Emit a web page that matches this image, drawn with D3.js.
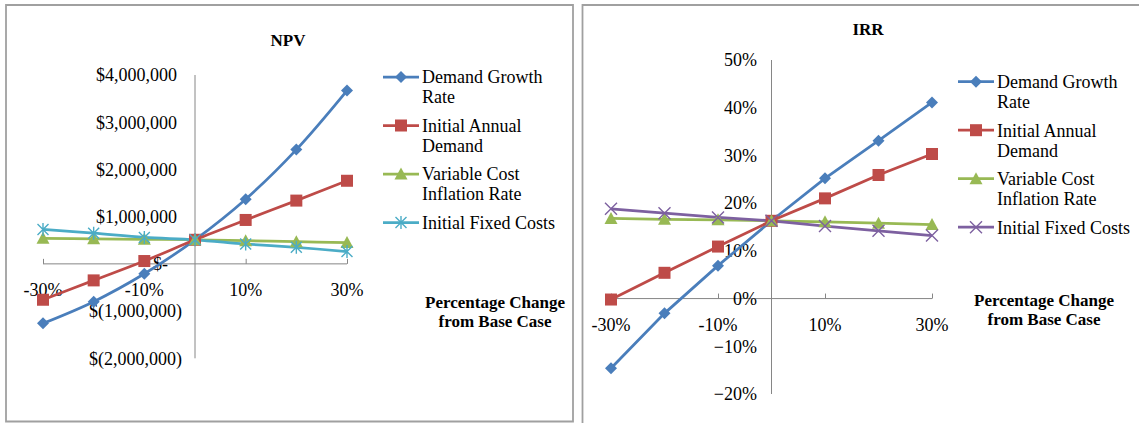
<!DOCTYPE html>
<html>
<head>
<meta charset="utf-8">
<title>NPV and IRR sensitivity</title>
<script src="https://cdnjs.cloudflare.com/ajax/libs/d3/7.8.5/d3.min.js"></script>
<style>
  body { margin: 0; background: #fff; }
  svg { display: block; font-family: "Liberation Serif", "Times New Roman", serif; }
  .lbl { font-size: 18px; fill: #000; }
  .ttl { font-size: 17px; font-weight: bold; fill: #000; }
</style>
</head>
<body>
<div id="chart"></div>
<script>
// categories: percentage change from base case
var categories = [-0.3, -0.2, -0.1, 0, 0.1, 0.2, 0.3];
var xTickLabels = ["-30%", "-20%", "-10%", "0%", "10%", "20%", "30%"];
var seriesNames = ["Demand Growth Rate", "Initial Annual Demand", "Variable Cost Inflation Rate", "Initial Fixed Costs"];

// NPV ($)
var npvDemandGrowth = [-1260000, -800000, -210000, 510000, 1370000, 2420000, 3670000];
var npvInitialDemand = [-760000, -350000, 60000, 510000, 930000, 1340000, 1760000];
var npvVarCost = [540000, 530000, 520000, 510000, 490000, 470000, 450000];
var npvFixedCost = [730000, 650000, 560000, 510000, 420000, 350000, 260000];
var npvTicks = [-2000000, -1000000, 0, 1000000, 2000000, 3000000, 4000000];

// IRR
var irrDemandGrowth = [-0.146, -0.031, 0.069, 0.163, 0.252, 0.331, 0.411];
var irrInitialDemand = [-0.002, 0.054, 0.109, 0.163, 0.210, 0.259, 0.303];
var irrVarCost = [0.168, 0.166, 0.165, 0.163, 0.161, 0.158, 0.155];
var irrFixedCost = [0.188, 0.179, 0.170, 0.163, 0.152, 0.142, 0.132];
var irrTicks = [-0.2, -0.1, 0, 0.1, 0.2, 0.3, 0.4, 0.5];

var W = 1139, H = 423;
var svg = d3.select("#chart").append("svg").attr("width", W).attr("height", H);

// marker shapes
function marker(g, type, color, cx, cy) {
  if (type == "diamond") {
    g.append("path").attr("d", "M" + cx + "," + (cy - 6) + "L" + (cx + 6) + "," + cy + "L" + cx + "," + (cy + 6) + "L" + (cx - 6) + "," + cy + "Z")
      .attr("fill", color);
  } else if (type == "square") {
    g.append("rect").attr("x", cx - 6).attr("y", cy - 6).attr("width", 12).attr("height", 12).attr("fill", color);
  } else if (type == "triangle") {
    g.append("path").attr("d", "M" + cx + "," + (cy - 6.5) + "L" + (cx + 6.5) + "," + (cy + 5.5) + "L" + (cx - 6.5) + "," + (cy + 5.5) + "Z")
      .attr("fill", color);
  } else if (type == "star") {
    g.append("path").attr("d", "M" + (cx - 5.5) + "," + (cy - 5.5) + "L" + (cx + 5.5) + "," + (cy + 5.5) + "M" + (cx - 5.5) + "," + (cy + 5.5) + "L" + (cx + 5.5) + "," + (cy - 5.5) + "M" + cx + "," + (cy - 6.5) + "L" + cx + "," + (cy + 6.5))
      .attr("stroke", color).attr("stroke-width", 1.4).attr("fill", "none");
  } else if (type == "x") {
    g.append("path").attr("d", "M" + (cx - 6) + "," + (cy - 6) + "L" + (cx + 6) + "," + (cy + 6) + "M" + (cx - 6) + "," + (cy + 6) + "L" + (cx + 6) + "," + (cy - 6))
      .attr("stroke", color).attr("stroke-width", 1.4).attr("fill", "none");
  }
}

function drawChart(c) {
  var g = svg.append("g");
  // chart area border
  g.append("path").attr("d", c.border).attr("fill", "none").attr("stroke", "#a0a0a0").attr("stroke-width", 1.8);

  var x = d3.scaleLinear().domain([-0.3, 0.3]).range(c.xRange);
  var y = d3.scaleLinear().domain(c.yDomain).range(c.yRange);

  // x axis (at y = 0)
  var xAxis = d3.axisTop(x).tickValues(categories.filter(function(d, i) { return i % 2 == 0; }))
    .tickSize(5).tickFormat("");
  var xa = g.append("g").attr("transform", "translate(0," + y(0) + ")").call(xAxis);
  xa.select(".domain").attr("stroke", "#868686").attr("d", "M" + c.xRange[0] + ",0H" + c.xRange[1]);
  xa.selectAll(".tick line").attr("stroke", "#868686");
  g.selectAll(".xl").data(categories.filter(function(d, i) { return i % 2 == 0; })).enter().append("text")
    .attr("class", "lbl").attr("x", function(d) { return x(d); }).attr("y", y(0) + 26).attr("dy", "0.35em")
    .attr("text-anchor", "middle").text(function(d) { return xTickLabels[categories.indexOf(d)]; });

  // y axis (at x = 0)
  g.append("line").attr("x1", x(0)).attr("x2", x(0)).attr("y1", c.yRange[1]).attr("y2", c.yRange[0])
    .attr("stroke", "#868686");
  g.selectAll(".yl").data(c.yTicks).enter().append("text")
    .attr("class", "lbl").attr("x", function(d) { return c.yLabelX + c.yLabelDx(d); }).attr("y", function(d) { return y(d); })
    .attr("dy", "0.35em").attr("text-anchor", "end").text(c.yFormat);

  // lines
  var line = d3.line().x(function(d, i) { return x(categories[i]); }).y(function(d) { return y(d); }).curve(c.curve);
  c.series.forEach(function(s) {
    g.append("path").attr("d", line(s.values)).attr("fill", "none").attr("stroke", s.color).attr("stroke-width", 2.75);
  });
  c.series.forEach(function(s) {
    s.values.forEach(function(v, i) { marker(g, s.marker, s.color, x(categories[i]), y(v)); });
  });

  // title
  g.append("text").attr("class", "ttl").attr("x", c.title[1]).attr("y", c.title[2]).attr("dy", "0.35em")
    .attr("text-anchor", "middle").text(c.title[0]);

  // axis title
  g.append("text").attr("class", "ttl").attr("x", c.axisTitle[0]).attr("y", c.axisTitle[1]).attr("dy", "0.35em")
    .attr("text-anchor", "middle").text("Percentage Change");
  g.append("text").attr("class", "ttl").attr("x", c.axisTitle[0]).attr("y", c.axisTitle[1] + 19).attr("dy", "0.35em")
    .attr("text-anchor", "middle").text("from Base Case");

  // legend
  var lines = [["Demand Growth", "Rate"], ["Initial Annual", "Demand"], ["Variable Cost", "Inflation Rate"], ["Initial Fixed Costs"]];
  var ly = c.legend[1];
  c.series.forEach(function(s, i) {
    var lx = c.legend[0];
    g.append("line").attr("x1", lx).attr("x2", lx + 36).attr("y1", ly).attr("y2", ly)
      .attr("stroke", s.color).attr("stroke-width", 2.75);
    marker(g, s.marker, s.color, lx + 18, ly);
    lines[i].forEach(function(t, j) {
      g.append("text").attr("class", "lbl").attr("x", lx + 39).attr("y", ly + j * 20).attr("dy", "0.35em").text(t);
    });
    ly += 48.5;
  });
}

drawChart({
  border: "M6,5H573V421.5H6Z",
  xRange: [43, 347],
  yDomain: [-2000000, 4000000],
  yRange: [358.3, 75],
  yTicks: npvTicks,
  yLabelX: 182,
  yLabelDx: function(d) { return d < 0 ? 0 : (d == 0 ? -14 : -5); },
  yFormat: function(d) {
    if (d == 0) return "$-";
    if (d < 0) return "$(" + d3.format(",")(-d) + ")";
    return "$" + d3.format(",")(d);
  },
  curve: d3.curveCatmullRom,
  title: ["NPV", 288, 40],
  axisTitle: [495, 302],
  legend: [383, 77],
  series: [
    { values: npvDemandGrowth, color: "#4a7ebb", marker: "diamond" },
    { values: npvInitialDemand, color: "#be4b48", marker: "square" },
    { values: npvVarCost, color: "#98b954", marker: "triangle" },
    { values: npvFixedCost, color: "#4bacc6", marker: "star" }
  ]
});

drawChart({
  border: "M582.5,424V5H1139",
  xRange: [611, 932],
  yDomain: [-0.2, 0.5],
  yRange: [394, 60],
  yTicks: irrTicks,
  yLabelX: 757,
  yLabelDx: function(d) { return 0; },
  yFormat: function(d) { return d3.format(".0%")(d); },
  curve: d3.curveLinear,
  title: ["IRR", 868, 29],
  axisTitle: [1044, 300],
  legend: [958, 81.7],
  series: [
    { values: irrDemandGrowth, color: "#4a7ebb", marker: "diamond" },
    { values: irrInitialDemand, color: "#be4b48", marker: "square" },
    { values: irrVarCost, color: "#98b954", marker: "triangle" },
    { values: irrFixedCost, color: "#7d60a0", marker: "x" }
  ]
});
</script>
</body>
</html>
